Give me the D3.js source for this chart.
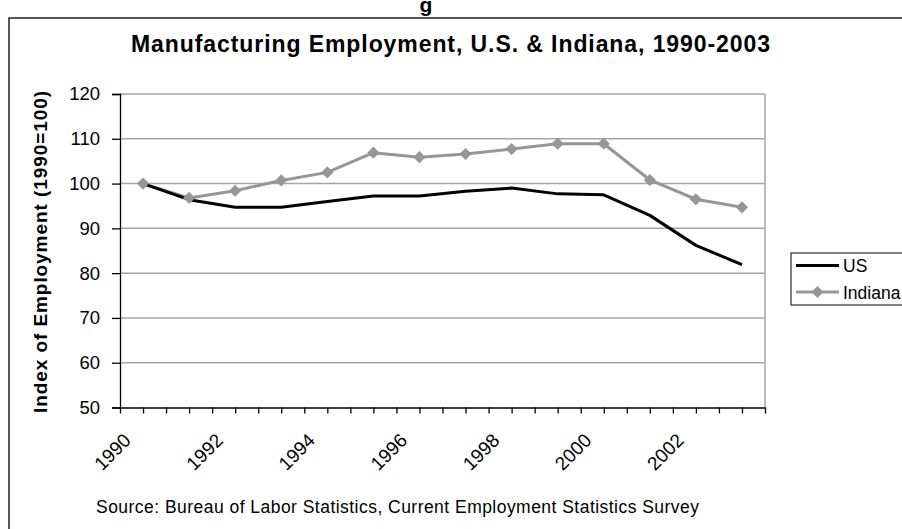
<!DOCTYPE html>
<html>
<head>
<meta charset="utf-8">
<script src="https://cdn.jsdelivr.net/npm/d3@7/dist/d3.min.js"></script>
<style>
  html, body { margin: 0; padding: 0; background: #fff; }
  svg { display: block; font-family: "Liberation Sans", Arial, sans-serif; }
</style>
</head>
<body>
<svg id="chart" width="902" height="529"></svg>
<script>
// Manufacturing employment index (1990 = 100)
const years = [1990, 1991, 1992, 1993, 1994, 1995, 1996, 1997, 1998, 1999, 2000, 2001, 2002, 2003];
const usValues = [100, 96.4, 94.7, 94.7, 96.0, 97.2, 97.2, 98.3, 99.0, 97.7, 97.5, 92.9, 86.2, 81.9];
const indianaValues = [100, 96.8, 98.4, 100.7, 102.5, 106.9, 105.9, 106.6, 107.7, 108.9, 108.9, 100.8, 96.5, 94.7];
const yTicks = [50, 60, 70, 80, 90, 100, 110, 120];
const xLabels = [1990, 1992, 1994, 1996, 1998, 2000, 2002];

const svg = d3.select("#chart");
const plot = { left: 120, right: 765, top: 94, bottom: 407.5 };

// Outer chart frame
svg.append("rect")
  .attr("x", 9).attr("y", 18)
  .attr("width", 1000).attr("height", 600)
  .attr("fill", "none").attr("stroke", "#222").attr("stroke-width", 1.5);

// Heading above the frame
svg.append("text")
  .attr("x", 426).attr("y", 12)
  .attr("text-anchor", "middle")
  .attr("font-weight", "bold").attr("font-size", 21)
  .text("g");

// Title
svg.append("text")
  .attr("x", 131).attr("y", 52)
  .attr("font-weight", "bold").attr("font-size", 23)
  .attr("textLength", 639).attr("lengthAdjust", "spacing")
  .text("Manufacturing Employment, U.S. & Indiana, 1990-2003");

const x = d3.scaleBand().domain(years).range([plot.left, plot.right]).padding(0);
const xTick = d3.scaleLinear().domain([0, years.length]).range([plot.left, plot.right]);
const y = d3.scaleLinear().domain([50, 120]).range([plot.bottom, plot.top]);
const cx = d => x(d) + x.bandwidth() / 2;

// Horizontal gridlines
svg.append("g")
  .selectAll("line")
  .data(yTicks.filter(t => t > 50))
  .join("line")
  .attr("x1", plot.left).attr("x2", plot.right)
  .attr("y1", d => y(d)).attr("y2", d => y(d))
  .attr("stroke", "#a6a6a6").attr("stroke-width", 1.5);

// Right edge of plot area
svg.append("line")
  .attr("x1", plot.right).attr("x2", plot.right)
  .attr("y1", plot.top).attr("y2", plot.bottom)
  .attr("stroke", "#a6a6a6").attr("stroke-width", 1.5);

// Y axis
const yAxis = svg.append("g")
  .attr("transform", `translate(${plot.left},0)`)
  .call(d3.axisLeft(y).tickValues(yTicks).tickSize(8).tickPadding(12));
yAxis.select(".domain").attr("stroke", "#000").attr("stroke-width", 1.3);
yAxis.selectAll(".tick line").attr("stroke", "#000").attr("stroke-width", 1.3);
yAxis.selectAll(".tick text")
  .attr("font-size", 18.5).attr("fill", "#000")
  .attr("font-family", "'Liberation Sans', Arial, sans-serif");

// X axis with tick marks at every half category
const xAxis = svg.append("g")
  .attr("transform", `translate(0,${plot.bottom})`)
  .call(d3.axisBottom(xTick)
    .tickValues(d3.range(0, years.length * 2 + 1).map(i => i / 2))
    .tickFormat("").tickSizeInner(6).tickSizeOuter(0));
xAxis.select(".domain").attr("stroke", "#000").attr("stroke-width", 1.3);
xAxis.selectAll(".tick line").attr("stroke", "#000").attr("stroke-width", 1.3);

// Rotated year labels
svg.append("g")
  .selectAll("text")
  .data(xLabels)
  .join("text")
  .attr("transform", d => `translate(${cx(d) - 11},${plot.bottom + 34}) rotate(-45)`)
  .attr("text-anchor", "end")
  .attr("font-size", 19)
  .text(d => d);

// Y axis title
svg.append("text")
  .attr("transform", `translate(47,252) rotate(-90)`)
  .attr("text-anchor", "middle")
  .attr("font-weight", "bold").attr("font-size", 19)
  .attr("textLength", 322).attr("lengthAdjust", "spacing")
  .text("Index of Employment (1990=100)");

const line = d3.line().x((d, i) => cx(years[i])).y(d => y(d));

// Indiana series with diamond markers
svg.append("path")
  .datum(indianaValues)
  .attr("d", line)
  .attr("fill", "none").attr("stroke", "#969696").attr("stroke-width", 3)
  .attr("stroke-linejoin", "round");

// US series
svg.append("path")
  .datum(usValues)
  .attr("d", line)
  .attr("fill", "none").attr("stroke", "#000").attr("stroke-width", 3)
  .attr("stroke-linejoin", "round");

const diamond = d3.symbol().type(d3.symbolDiamond2).size(95);
svg.append("g")
  .selectAll("path")
  .data(indianaValues)
  .join("path")
  .attr("transform", (d, i) => `translate(${cx(years[i])},${y(d)})`)
  .attr("d", diamond)
  .attr("fill", "#969696");

// Legend
const legend = svg.append("g").attr("transform", "translate(791,253)");
legend.append("rect")
  .attr("width", 130).attr("height", 52)
  .attr("fill", "#fff").attr("stroke", "#000").attr("stroke-width", 1);
legend.append("line")
  .attr("x1", 5).attr("x2", 48).attr("y1", 12.5).attr("y2", 12.5)
  .attr("stroke", "#000").attr("stroke-width", 3);
legend.append("text")
  .attr("x", 52).attr("y", 19).attr("font-size", 17.5).text("US");
legend.append("line")
  .attr("x1", 5).attr("x2", 48).attr("y1", 39).attr("y2", 39)
  .attr("stroke", "#969696").attr("stroke-width", 3);
legend.append("path")
  .attr("transform", "translate(26.5,39)")
  .attr("d", diamond).attr("fill", "#969696");
legend.append("text")
  .attr("x", 52).attr("y", 45.5).attr("font-size", 17.5).text("Indiana");

// Source note
svg.append("text")
  .attr("x", 96).attr("y", 513)
  .attr("font-size", 17.5)
  .attr("textLength", 603).attr("lengthAdjust", "spacing")
  .text("Source: Bureau of Labor Statistics, Current Employment Statistics Survey");
</script>
</body>
</html>
